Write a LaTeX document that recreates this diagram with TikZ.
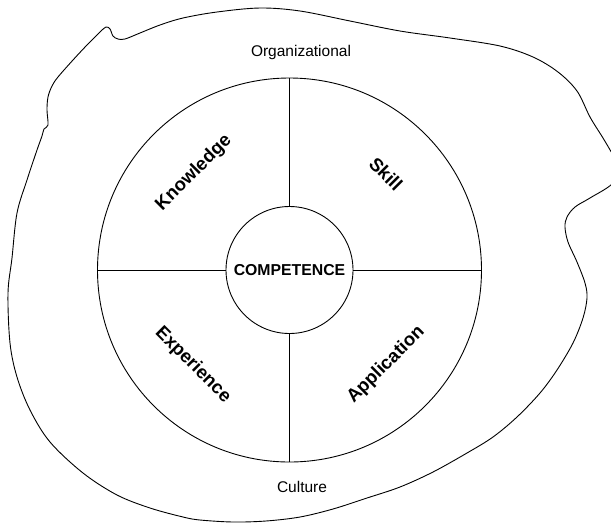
\documentclass[tikz,border=0pt]{standalone}
\usepackage{fontspec}
\setmainfont{Liberation Sans}
\begin{document}
\begin{tikzpicture}[x=1pt,y=-1pt,
  line/.style={line width=0.9pt,black},
  plain/.style={font=\fontsize{15.5}{18}\selectfont},
  sector/.style={font=\bfseries\fontsize{18.5}{22}\selectfont},
  corelabel/.style={font=\bfseries\fontsize{15.8}{19}\selectfont}]
\useasboundingbox (0,0) rectangle (611,523);
\clip (0,0) rectangle (611,523);

% irregular outline of the surrounding culture
\draw[line] plot[smooth cycle, tension=0.55] coordinates {
  (48,125) (47,110) (48,97) (52,86) (58,77) (73,60) (87,45) (100,32)
  (106,27) (110,29) (113,36) (118,39) (125,39) (140,33) (160,25)
  (183,18) (217,12) (260,8) (300,11) (350,21) (400,31) (450,38)
  (500,46) (533,57) (558,72) (577,91) (590,117) (603,138) (613,155)
  (620,168) (612,184) (590,198) (575,207) (567,217) (565,227)
  (568,242) (577,262) (585,283) (587,298) (583,318) (573,343)
  (557,370) (540,393) (517,417) (493,437) (467,453) (433,472)
  (400,487) (367,498) (333,509) (300,517) (266,521) (233,522)
  (200,520) (183,517) (150,508) (117,495) (83,473) (50,442)
  (30,410) (17,377) (10,343) (8,293) (12,258) (17,213) (27,180)
  (37,150) (42,136) (44,129)};

% rings
\node[draw, line, circle, minimum size=384pt, inner sep=0pt] (ring) at (289.5,270) {};
\node[draw, line, circle, minimum size=127pt, inner sep=0pt, corelabel] (core) at (289.5,270) {COMPETENCE};

% spokes between the rings
\draw[line] (core.north) -- (ring.north);
\draw[line] (core.south) -- (ring.south);
\draw[line] (core.west) -- (ring.west);
\draw[line] (core.east) -- (ring.east);

% sector labels
\node[sector, rotate=45]  (know) at (194,173) {Knowledge};
\node[sector, rotate=-45] (skill) at (386,174) {Skill};
\node[sector, rotate=-45] (exp) at (193,365) {Experience};
\node[sector, rotate=45]  (app) at (386,365) {Application};

% outer labels
\node[plain] (org) at (301,52) {Organizational};
\node[plain] (cult) at (302,487) {Culture};
\end{tikzpicture}
\end{document}
